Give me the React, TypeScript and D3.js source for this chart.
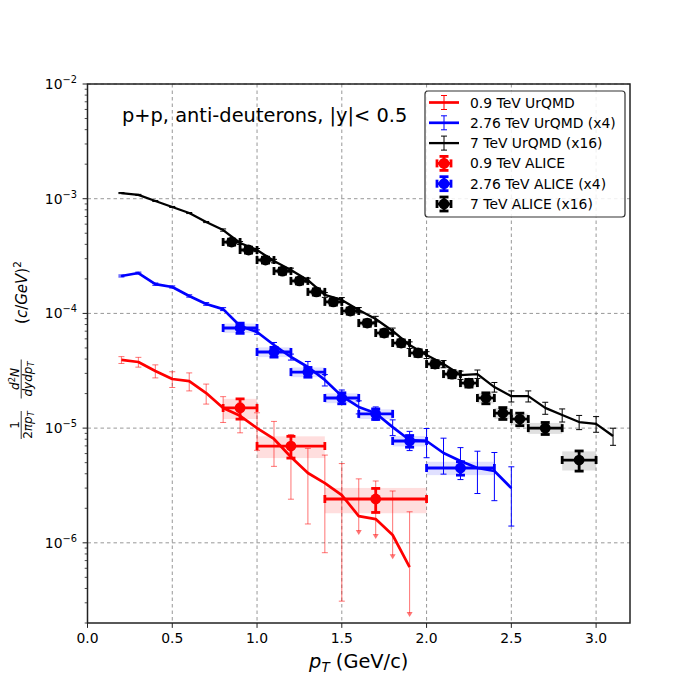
import React from "react";
import * as d3 from "d3";

// UrQMD curves (x1, x4, x16)
const urqmdRedX = [0.2, 0.3, 0.4, 0.5, 0.6, 0.7, 0.8, 0.9, 1.0, 1.1, 1.2, 1.3, 1.4, 1.5, 1.6, 1.7, 1.8, 1.9];
const urqmdRedY = [3.93e-5, 3.77e-5, 3.15e-5, 2.68e-5, 2.57e-5, 2.02e-5, 1.5e-5, 1.28e-5, 1.0e-5, 8.04e-6, 5.6e-6, 4.06e-6, 3.32e-6, 2.61e-6, 1.71e-6, 1.61e-6, 1.17e-6, 6.15e-7];
const urqmdRedErrUp = [2.7e-6, 3.7e-6, 4.1e-6, 4.2e-6, 4.6e-6, 4.0e-6, 3.8e-6, 3.7e-6, 3.6e-6, 3.4e-6, 3.2e-6, 2.6e-6, 2.5e-6, 2.3e-6, 1.9e-6, 1.85e-6, 1.66e-6, 1.25e-6];
const urqmdRedErrDown = [2.7e-6, 3.7e-6, 4.1e-6, 4.2e-6, 4.6e-6, 4.0e-6, 3.8e-6, 3.7e-6, 3.6e-6, 3.4e-6, 3.2e-6, 2.6e-6, 2.5e-6, 2.3e-6, 4.4e-7, 4.4e-7, 3.9e-7, 3.7e-7];
const urqmdRedLimit = [false, false, false, false, false, false, false, false, false, false, false, false, false, false, true, true, true, true];

const urqmdBlueX = [0.2, 0.3, 0.4, 0.5, 0.6, 0.7, 0.8, 0.9, 1.0, 1.1, 1.2, 1.3, 1.4, 1.5, 1.6, 1.7, 1.8, 1.9, 2.0, 2.1, 2.2, 2.3, 2.4, 2.5];
const urqmdBlueY = [2.12e-4, 2.25e-4, 1.8e-4, 1.7e-4, 1.42e-4, 1.21e-4, 1.09e-4, 7.76e-5, 6.88e-5, 5.3e-5, 4.17e-5, 3.41e-5, 2.63e-5, 1.9e-5, 1.53e-5, 1.35e-5, 1.02e-5, 7.87e-6, 7.72e-6, 6.07e-6, 5.16e-6, 4.49e-6, 4.23e-6, 3.0e-6];
const urqmdBlueErr = [4e-6, 4e-6, 4e-6, 3.5e-6, 3.2e-6, 3.2e-6, 3.2e-6, 3e-6, 3e-6, 2.8e-6, 2.5e-6, 4e-6, 3e-6, 2.5e-6, 2e-6, 1.8e-6, 1.6e-6, 1.5e-6, 2.2e-6, 2.1e-6, 1.6e-6, 1.8e-6, 1.9e-6, 1.6e-6];

const urqmdBlackX = [0.2, 0.3, 0.4, 0.5, 0.6, 0.7, 0.8, 0.9, 1.0, 1.1, 1.2, 1.3, 1.4, 1.5, 1.6, 1.7, 1.8, 1.9, 2.0, 2.1, 2.2, 2.3, 2.4, 2.5, 2.6, 2.7, 2.8, 2.9, 3.0, 3.1];
const urqmdBlackY = [1.12e-3, 1.08e-3, 9.55e-4, 8.47e-4, 7.5e-4, 6.26e-4, 5.33e-4, 4.11e-4, 3.57e-4, 2.86e-4, 2.39e-4, 1.95e-4, 1.45e-4, 1.31e-4, 1.07e-4, 8.93e-5, 7.03e-5, 5.3e-5, 4.34e-5, 3.62e-5, 2.9e-5, 2.96e-5, 2.28e-5, 1.9e-5, 1.9e-5, 1.5e-5, 1.3e-5, 1.13e-5, 1.09e-5, 8.53e-6];
const urqmdBlackErr = [1.2e-5, 1.1e-5, 1e-5, 9e-6, 8e-6, 7e-6, 1.2e-5, 1.2e-5, 1.1e-5, 1e-5, 9e-6, 8e-6, 7e-6, 6.5e-6, 5.5e-6, 5e-6, 4.2e-6, 3.5e-6, 3e-6, 2.6e-6, 2.4e-6, 2.5e-6, 2.2e-6, 2.1e-6, 2.1e-6, 1.8e-6, 1.7e-6, 1.6e-6, 1.7e-6, 1.45e-6];

// ALICE data (x1, x4, x16)
const aliceRedX = [0.9, 1.2, 1.7];
const aliceRedDx = [0.1, 0.2, 0.3];
const aliceRedY = [1.5e-5, 6.98e-6, 2.41e-6];
const aliceRedStat = [3e-6, 1.5e-6, 5.7e-7];
const aliceRedSys = [3e-6, 1.5e-6, 6e-7];

const aliceBlueX = [0.9, 1.1, 1.3, 1.5, 1.7, 1.9, 2.2];
const aliceBlueDx = [0.1, 0.1, 0.1, 0.1, 0.1, 0.1, 0.2];
const aliceBlueY = [7.46e-5, 4.61e-5, 3.08e-5, 1.83e-5, 1.33e-5, 7.72e-6, 4.49e-6];
const aliceBlueStat = [7.5e-6, 4.5e-6, 3e-6, 2e-6, 1.4e-6, 9e-7, 6e-7];
const aliceBlueSys = [7e-6, 4.5e-6, 3e-6, 1.8e-6, 1.3e-6, 8e-7, 6e-7];

const aliceBlackX = [0.85, 0.95, 1.05, 1.15, 1.25, 1.35, 1.45, 1.55, 1.65, 1.75, 1.85, 1.95, 2.05, 2.15, 2.25, 2.35, 2.45, 2.55, 2.7, 2.9];
const aliceBlackDx = [0.05, 0.05, 0.05, 0.05, 0.05, 0.05, 0.05, 0.05, 0.05, 0.05, 0.05, 0.05, 0.05, 0.05, 0.05, 0.05, 0.05, 0.05, 0.1, 0.1];
const aliceBlackY = [4.19e-4, 3.57e-4, 2.92e-4, 2.34e-4, 1.92e-4, 1.54e-4, 1.26e-4, 1.05e-4, 8.24e-5, 6.75e-5, 5.52e-5, 4.52e-5, 3.62e-5, 2.96e-5, 2.47e-5, 1.83e-5, 1.35e-5, 1.2e-5, 1.0e-5, 5.27e-6];
const aliceBlackStat = [2.5e-5, 2.1e-5, 1.7e-5, 1.4e-5, 1.15e-5, 9.5e-6, 7.8e-6, 6.5e-6, 5.2e-6, 4.3e-6, 3.6e-6, 3e-6, 2.5e-6, 2.1e-6, 1.9e-6, 2e-6, 1.6e-6, 1.5e-6, 1.2e-6, 1.05e-6];
const aliceBlackSys = [2.2e-5, 1.9e-5, 1.5e-5, 1.2e-5, 1e-5, 8.5e-6, 7e-6, 6e-6, 4.8e-6, 4e-6, 3.3e-6, 2.8e-6, 2.3e-6, 2e-6, 1.8e-6, 1.9e-6, 1.5e-6, 1.4e-6, 1.1e-6, 1e-6];

const xTicks = [0, 0.5, 1.0, 1.5, 2.0, 2.5, 3.0];
const yTicks = [1e-6, 1e-5, 1e-4, 1e-3, 1e-2];
const yTickExp = ["\u22126", "\u22125", "\u22124", "\u22123", "\u22122"];

const legendLabels = [
  "0.9 TeV UrQMD",
  "2.76 TeV UrQMD (x4)",
  "7 TeV UrQMD (x16)",
  "0.9 TeV ALICE",
  "2.76 TeV ALICE (x4)",
  "7 TeV ALICE (x16)",
];
const legendColors = ["#ff0000", "#0000ff", "#000000", "#ff0000", "#0000ff", "#000000"];

const FONT = "DejaVu Sans, sans-serif";
const left = 87.5, right = 630, top = 84, bottom = 623;

const x = d3.scaleLinear().domain([0, 3.2]).range([left, right]);
const y = d3.scaleLog().domain([2e-7, 1e-2]).range([bottom, top]);

const urqmdSeries = [
  { xs: urqmdRedX, ys: urqmdRedY, up: urqmdRedErrUp, down: urqmdRedErrDown, lim: urqmdRedLimit, color: "#ff0000", lw: 2.7, barOpacity: 0.55 },
  { xs: urqmdBlueX, ys: urqmdBlueY, up: urqmdBlueErr, down: urqmdBlueErr, lim: null, color: "#0000ff", lw: 2.7, barOpacity: 1 },
  { xs: urqmdBlackX, ys: urqmdBlackY, up: urqmdBlackErr, down: urqmdBlackErr, lim: null, color: "#000000", lw: 2.3, barOpacity: 1 },
];

const aliceSeries = [
  { xs: aliceRedX, dx: aliceRedDx, ys: aliceRedY, stat: aliceRedStat, sys: aliceRedSys, color: "#ff0000", box: "rgba(255,0,0,0.13)" },
  { xs: aliceBlueX, dx: aliceBlueDx, ys: aliceBlueY, stat: aliceBlueStat, sys: aliceBlueSys, color: "#0000ff", box: "rgba(0,0,255,0.12)" },
  { xs: aliceBlackX, dx: aliceBlackDx, ys: aliceBlackY, stat: aliceBlackStat, sys: aliceBlackSys, color: "#000000", box: "rgba(0,0,0,0.12)" },
];

function UrqmdCurve({ s }: { s: (typeof urqmdSeries)[number] }) {
  const line = d3
    .line<number>()
    .x((_, i) => x(s.xs[i]))
    .y((d) => y(d));
  return (
    <g>
      <path d={line(s.ys) || ""} fill="none" stroke={s.color} strokeWidth={s.lw} strokeLinejoin="round" />
      {s.ys.map((v, i) => {
        const px = x(s.xs[i]);
        const hi = y(v + s.up[i]);
        const lo = y(Math.max(v - s.down[i], 1e-9));
        const isLim = s.lim ? s.lim[i] : false;
        return (
          <g key={i} stroke={s.color} strokeOpacity={s.barOpacity} strokeWidth={1}>
            <line x1={px} x2={px} y1={hi} y2={lo} />
            <line x1={px - 3} x2={px + 3} y1={hi} y2={hi} />
            {isLim ? (
              <path d={`M${px - 3},${lo - 1}L${px + 3},${lo - 1}L${px},${lo + 4}Z`} fill={s.color} fillOpacity={s.barOpacity} stroke="none" />
            ) : (
              <line x1={px - 3} x2={px + 3} y1={lo} y2={lo} />
            )}
          </g>
        );
      })}
    </g>
  );
}

function AliceBoxes({ s }: { s: (typeof aliceSeries)[number] }) {
  return (
    <g>
      {s.ys.map((v, i) => {
        const x0 = x(s.xs[i] - s.dx[i]);
        const x1 = x(s.xs[i] + s.dx[i]);
        const y0 = y(v + s.sys[i]);
        const y1 = y(v - s.sys[i]);
        return <rect key={i} x={x0} y={y0} width={x1 - x0} height={y1 - y0} fill={s.box} />;
      })}
    </g>
  );
}

function AlicePoints({ s }: { s: (typeof aliceSeries)[number] }) {
  return (
    <g stroke={s.color} strokeWidth={2.8}>
      {s.ys.map((v, i) => {
        const px = x(s.xs[i]);
        const py = y(v);
        const x0 = x(s.xs[i] - s.dx[i]);
        const x1 = x(s.xs[i] + s.dx[i]);
        const hi = y(v + s.stat[i]);
        const lo = y(v - s.stat[i]);
        return (
          <g key={i}>
            <line x1={x0} x2={x1} y1={py} y2={py} />
            <line x1={x0} x2={x0} y1={py - 4} y2={py + 4} />
            <line x1={x1} x2={x1} y1={py - 4} y2={py + 4} />
            <line x1={px} x2={px} y1={hi} y2={lo} />
            <line x1={px - 4.5} x2={px + 4.5} y1={hi} y2={hi} />
            <line x1={px - 4.5} x2={px + 4.5} y1={lo} y2={lo} />
            <circle cx={px} cy={py} r={5.4} fill={s.color} stroke="none" />
          </g>
        );
      })}
    </g>
  );
}

function Legend() {
  const lx = 425, ly = 91, lw = 200, lh = 126;
  const rows = [102.5, 122.8, 143.1, 163.4, 183.7, 204];
  return (
    <g>
      <rect x={lx} y={ly} width={lw} height={lh} rx={3} fill="#ffffff" fillOpacity={0.85} stroke="#333" strokeWidth={1.2} />
      {legendLabels.map((lab, i) => {
        const cy = rows[i];
        const c = legendColors[i];
        const cx = 444;
        return (
          <g key={lab}>
            {i < 3 ? (
              <g stroke={c} strokeWidth={1}>
                <line x1={429} x2={459} y1={cy} y2={cy} strokeWidth={i === 2 ? 2.3 : 2.7} />
                <line x1={cx} x2={cx} y1={cy - 7} y2={cy + 7} />
                <line x1={cx - 3} x2={cx + 3} y1={cy - 7} y2={cy - 7} />
                <line x1={cx - 3} x2={cx + 3} y1={cy + 7} y2={cy + 7} />
              </g>
            ) : (
              <g stroke={c} strokeWidth={2.8}>
                <line x1={cx - 7} x2={cx + 7} y1={cy} y2={cy} />
                <line x1={cx - 7} x2={cx - 7} y1={cy - 4} y2={cy + 4} />
                <line x1={cx + 7} x2={cx + 7} y1={cy - 4} y2={cy + 4} />
                <line x1={cx} x2={cx} y1={cy - 7} y2={cy + 7} />
                <line x1={cx - 4.5} x2={cx + 4.5} y1={cy - 7} y2={cy - 7} />
                <line x1={cx - 4.5} x2={cx + 4.5} y1={cy + 7} y2={cy + 7} />
                <circle cx={cx} cy={cy} r={5.4} fill={c} stroke="none" />
              </g>
            )}
            <text x={470} y={cy + 5} fontSize={13.9} fontFamily={FONT} fill="#000">
              {lab}
            </text>
          </g>
        );
      })}
    </g>
  );
}

export default function App() {
  const minorTicks: number[] = [];
  for (let e = -7; e <= -3; e++) {
    for (let m = 2; m <= 9; m++) {
      const v = m * Math.pow(10, e);
      if (v >= 2e-7 && v <= 1e-2) minorTicks.push(v);
    }
  }
  return (
    <svg width={700} height={700} style={{ position: "absolute", left: 0, top: 0 }} fontFamily={FONT}>
      <rect width={700} height={700} fill="#ffffff" />
      <defs>
        <clipPath id="plotArea">
          <rect x={left} y={top} width={right - left} height={bottom - top} />
        </clipPath>
      </defs>

      {/* grid */}
      <g stroke="#8c8c8c" strokeWidth={0.9} strokeDasharray="3.5,3">
        {xTicks.map((t) => (
          <line key={t} x1={x(t)} x2={x(t)} y1={top} y2={bottom} />
        ))}
        {yTicks.map((t) => (
          <line key={t} x1={left} x2={right} y1={y(t)} y2={y(t)} />
        ))}
      </g>

      <g clipPath="url(#plotArea)">
        {aliceSeries.map((s, i) => (
          <AliceBoxes key={i} s={s} />
        ))}
        {urqmdSeries.map((s, i) => (
          <UrqmdCurve key={i} s={s} />
        ))}
        {aliceSeries.map((s, i) => (
          <AlicePoints key={i} s={s} />
        ))}
      </g>

      {/* frame */}
      <rect x={left} y={top} width={right - left} height={bottom - top} fill="none" stroke="#222" strokeWidth={1.5} />

      {/* x ticks */}
      {xTicks.map((t) => (
        <g key={t}>
          <line x1={x(t)} x2={x(t)} y1={bottom} y2={bottom + 4.9} stroke="#222" strokeWidth={1} />
          <text x={x(t)} y={bottom + 20} fontSize={13.9} textAnchor="middle" fill="#000">
            {t.toFixed(1)}
          </text>
        </g>
      ))}

      {/* y ticks */}
      {minorTicks.map((t) => (
        <line key={t} x1={left - 2.8} x2={left} y1={y(t)} y2={y(t)} stroke="#222" strokeWidth={0.8} />
      ))}
      {yTicks.map((t, i) => (
        <g key={t}>
          <line x1={left - 4.9} x2={left} y1={y(t)} y2={y(t)} stroke="#222" strokeWidth={1} />
          <text x={77} y={y(t) + 5} fontSize={13.9} textAnchor="end" fill="#000">
            10<tspan dy={-6} fontSize={9.8}>{yTickExp[i]}</tspan>
          </text>
        </g>
      ))}

      {/* x label */}
      <text x={(left + right) / 2} y={668} fontSize={19.4} textAnchor="middle" fill="#000">
        <tspan fontStyle="italic">p</tspan>
        <tspan dy={4} fontSize={13.5} fontStyle="italic">T</tspan>
        <tspan dy={-4}> (GeV/c)</tspan>
      </text>

      {/* y label */}
      <g fill="#000">
        <g transform="translate(0,425) rotate(-90)">
          <text x={0} y={19} fontSize={12} textAnchor="middle">1</text>
          <line x1={-14} x2={14} y1={21.2} y2={21.2} stroke="#000" strokeWidth={0.8} />
          <text x={0} y={31.5} fontSize={12} textAnchor="middle">
            2<tspan fontStyle="italic">πp</tspan>
            <tspan dy={2.5} fontSize={8.4} fontStyle="italic">T</tspan>
          </text>
        </g>
        <g transform="translate(0,379) rotate(-90)">
          <text x={0} y={19} fontSize={12} textAnchor="middle">
            <tspan fontStyle="italic">d</tspan>
            <tspan dy={-4.5} fontSize={8.4}>2</tspan>
            <tspan dy={4.5} fontStyle="italic">N</tspan>
          </text>
          <line x1={-19.5} x2={19.5} y1={21.2} y2={21.2} stroke="#000" strokeWidth={0.8} />
          <text x={0} y={31.5} fontSize={12} textAnchor="middle" fontStyle="italic">
            dydp<tspan dy={2.5} fontSize={8.4}>T</tspan>
          </text>
        </g>
        <text transform="translate(27,292.5) rotate(-90)" fontSize={15} textAnchor="middle">
          (<tspan fontStyle="italic">c</tspan>/<tspan fontStyle="italic">GeV</tspan>)
          <tspan dy={-6.5} fontSize={10.5}>2</tspan>
        </text>
      </g>

      {/* annotation */}
      <text x={122} y={122} fontSize={19.4} fill="#000">
        p+p, anti-deuterons, |y|&lt; 0.5
      </text>

      <Legend />
    </svg>
  );
}
